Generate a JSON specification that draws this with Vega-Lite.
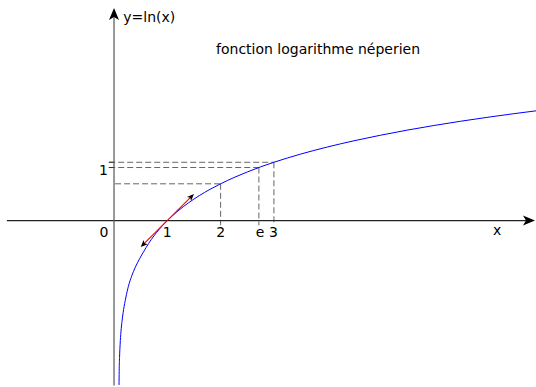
{
  "$schema": "https://vega.github.io/schema/vega-lite/v6.json",
  "width": 536,
  "height": 387,
  "padding": 0,
  "autosize": {"type": "fit", "contains": "padding"},
  "background": "white",
  "config": {"view": {"stroke": null}, "text": {"font": "DejaVu Sans", "fontSize": 14, "color": "#000"}},
  "datasets": {
    "curve": [
      {"x": 0.094, "y": -3.10}, {"x": 0.097, "y": -2.85}, {"x": 0.104, "y": -2.58}, {"x": 0.115, "y": -2.33},
      {"x": 0.13, "y": -2.10}, {"x": 0.15, "y": -1.90}, {"x": 0.18, "y": -1.68}, {"x": 0.22, "y": -1.46},
      {"x": 0.27, "y": -1.24}, {"x": 0.33, "y": -1.05}, {"x": 0.40, "y": -0.88}, {"x": 0.48, "y": -0.72},
      {"x": 0.56, "y": -0.58}, {"x": 0.65, "y": -0.431}, {"x": 0.75, "y": -0.288}, {"x": 0.85, "y": -0.163},
      {"x": 0.9, "y": -0.105}, {"x": 1.0, "y": 0.0}, {"x": 1.2, "y": 0.182}, {"x": 1.4, "y": 0.336},
      {"x": 1.6, "y": 0.47}, {"x": 1.8, "y": 0.588}, {"x": 2.0, "y": 0.693}, {"x": 2.25, "y": 0.811},
      {"x": 2.5, "y": 0.916}, {"x": 2.75, "y": 1.012}, {"x": 3.0, "y": 1.099}, {"x": 3.5, "y": 1.253},
      {"x": 4.0, "y": 1.386}, {"x": 4.5, "y": 1.504}, {"x": 5.0, "y": 1.609}, {"x": 5.5, "y": 1.705},
      {"x": 6.0, "y": 1.792}, {"x": 6.5, "y": 1.872}, {"x": 7.0, "y": 1.946}, {"x": 7.5, "y": 2.015},
      {"x": 7.95, "y": 2.073}
    ],
    "axes": [
      {"name": "x", "x": -2.01, "y": 0, "x2": 7.75, "y2": 0},
      {"name": "y", "x": 0, "y": -3.11, "x2": 0, "y2": 3.85}
    ],
    "dashes": [
      {"x": 0.02, "y": 0.693, "x2": 2.0, "y2": 0.693},
      {"x": 2.0, "y": 0.693, "x2": 2.0, "y2": -0.09},
      {"x": -0.09, "y": 1.0, "x2": 2.718, "y2": 1.0},
      {"x": 2.718, "y": 1.0, "x2": 2.718, "y2": -0.09},
      {"x": -0.09, "y": 1.099, "x2": 3.0, "y2": 1.099},
      {"x": 3.0, "y": 1.099, "x2": 3.0, "y2": -0.09}
    ],
    "ticks": [
      {"x": -0.1, "y": 1.0, "x2": 0, "y2": 1.0},
      {"x": -0.1, "y": 1.099, "x2": 0, "y2": 1.099}
    ],
    "tangent": [
      {"x": 0.55, "y": -0.45, "x2": 1.45, "y2": 0.45}
    ],
    "arrows": [
      {"name": "xaxis", "x": 7.773, "y": 0},
      {"name": "yaxis", "x": 0, "y": 3.884},
      {"name": "tanup", "x": 1.448, "y": 0.448},
      {"name": "tandown", "x": 0.552, "y": -0.448}
    ],
    "labels": [
      {"label": "0", "x": -0.188, "y": -0.311},
      {"label": "1", "x": 1.0, "y": -0.311},
      {"label": "2", "x": 2.0, "y": -0.311},
      {"label": "e", "x": 2.74, "y": -0.311},
      {"label": "3", "x": 2.99, "y": -0.311},
      {"label": "1", "x": -0.2, "y": 0.863},
      {"label": "x", "x": 7.19, "y": -0.28}
    ],
    "titles": [
      {"label": "y=ln(x)", "x": 0.174, "y": 3.737},
      {"label": "fonction logarithme néperien", "x": 1.914, "y": 3.146}
    ]
  },
  "layer": [
    {
      "data": {"name": "dashes"},
      "mark": {"type": "rule", "color": "#666", "strokeWidth": 1, "strokeDash": [6, 3]},
      "encoding": {
        "x": {"field": "x", "type": "quantitative", "scale": {"domain": [-2.139, 7.917], "nice": false, "zero": false}, "axis": null},
        "y": {"field": "y", "type": "quantitative", "scale": {"domain": [-3.101, 4.159], "nice": false, "zero": false}, "axis": null},
        "x2": {"field": "x2"},
        "y2": {"field": "y2"}
      }
    },
    {
      "data": {"name": "ticks"},
      "mark": {"type": "rule", "color": "#333", "strokeWidth": 1},
      "encoding": {
        "x": {"field": "x", "type": "quantitative"},
        "y": {"field": "y", "type": "quantitative"},
        "x2": {"field": "x2"},
        "y2": {"field": "y2"}
      }
    },
    {
      "data": {"name": "axes"},
      "transform": [{"filter": "datum.name == 'x'"}],
      "mark": {"type": "rule", "color": "#222", "strokeWidth": 1.2},
      "encoding": {
        "x": {"field": "x", "type": "quantitative"},
        "y": {"field": "y", "type": "quantitative"},
        "x2": {"field": "x2"},
        "y2": {"field": "y2"}
      }
    },
    {
      "data": {"name": "axes"},
      "transform": [{"filter": "datum.name == 'y'"}],
      "mark": {"type": "rule", "color": "#555", "strokeWidth": 1.2},
      "encoding": {
        "x": {"field": "x", "type": "quantitative"},
        "y": {"field": "y", "type": "quantitative"},
        "x2": {"field": "x2"},
        "y2": {"field": "y2"}
      }
    },
    {
      "data": {"name": "curve"},
      "mark": {"type": "line", "color": "#0000ff", "strokeWidth": 1, "interpolate": "monotone", "clip": true},
      "encoding": {
        "x": {"field": "x", "type": "quantitative"},
        "y": {"field": "y", "type": "quantitative"}
      }
    },
    {
      "data": {"name": "tangent"},
      "mark": {"type": "rule", "color": "#ff0000", "strokeWidth": 1.1},
      "encoding": {
        "x": {"field": "x", "type": "quantitative"},
        "y": {"field": "y", "type": "quantitative"},
        "x2": {"field": "x2"},
        "y2": {"field": "y2"}
      }
    },
    {
      "data": {"name": "arrows"},
      "transform": [{"filter": "datum.name == 'xaxis'"}],
      "mark": {"type": "point", "shape": "M0,-1 L0.75,0.8 L0,0.35 L-0.75,0.8 Z", "filled": true, "color": "#000", "opacity": 1, "size": 178, "angle": 90},
      "encoding": {
        "x": {"field": "x", "type": "quantitative"},
        "y": {"field": "y", "type": "quantitative"}
      }
    },
    {
      "data": {"name": "arrows"},
      "transform": [{"filter": "datum.name == 'yaxis'"}],
      "mark": {"type": "point", "shape": "M0,-1 L0.75,0.8 L0,0.35 L-0.75,0.8 Z", "filled": true, "color": "#000", "opacity": 1, "size": 178, "angle": 0},
      "encoding": {
        "x": {"field": "x", "type": "quantitative"},
        "y": {"field": "y", "type": "quantitative"}
      }
    },
    {
      "data": {"name": "arrows"},
      "transform": [{"filter": "datum.name == 'tanup'"}],
      "mark": {"type": "point", "shape": "M0,-1 L0.75,0.8 L0,0.35 L-0.75,0.8 Z", "filled": true, "color": "#000", "opacity": 1, "size": 60, "angle": 45},
      "encoding": {
        "x": {"field": "x", "type": "quantitative"},
        "y": {"field": "y", "type": "quantitative"}
      }
    },
    {
      "data": {"name": "arrows"},
      "transform": [{"filter": "datum.name == 'tandown'"}],
      "mark": {"type": "point", "shape": "M0,-1 L0.75,0.8 L0,0.35 L-0.75,0.8 Z", "filled": true, "color": "#000", "opacity": 1, "size": 60, "angle": 225},
      "encoding": {
        "x": {"field": "x", "type": "quantitative"},
        "y": {"field": "y", "type": "quantitative"}
      }
    },
    {
      "data": {"name": "labels"},
      "mark": {"type": "text", "align": "center", "baseline": "alphabetic"},
      "encoding": {
        "x": {"field": "x", "type": "quantitative"},
        "y": {"field": "y", "type": "quantitative"},
        "text": {"field": "label"}
      }
    },
    {
      "data": {"name": "titles"},
      "mark": {"type": "text", "align": "left", "baseline": "alphabetic"},
      "encoding": {
        "x": {"field": "x", "type": "quantitative"},
        "y": {"field": "y", "type": "quantitative"},
        "text": {"field": "label"}
      }
    }
  ]
}
